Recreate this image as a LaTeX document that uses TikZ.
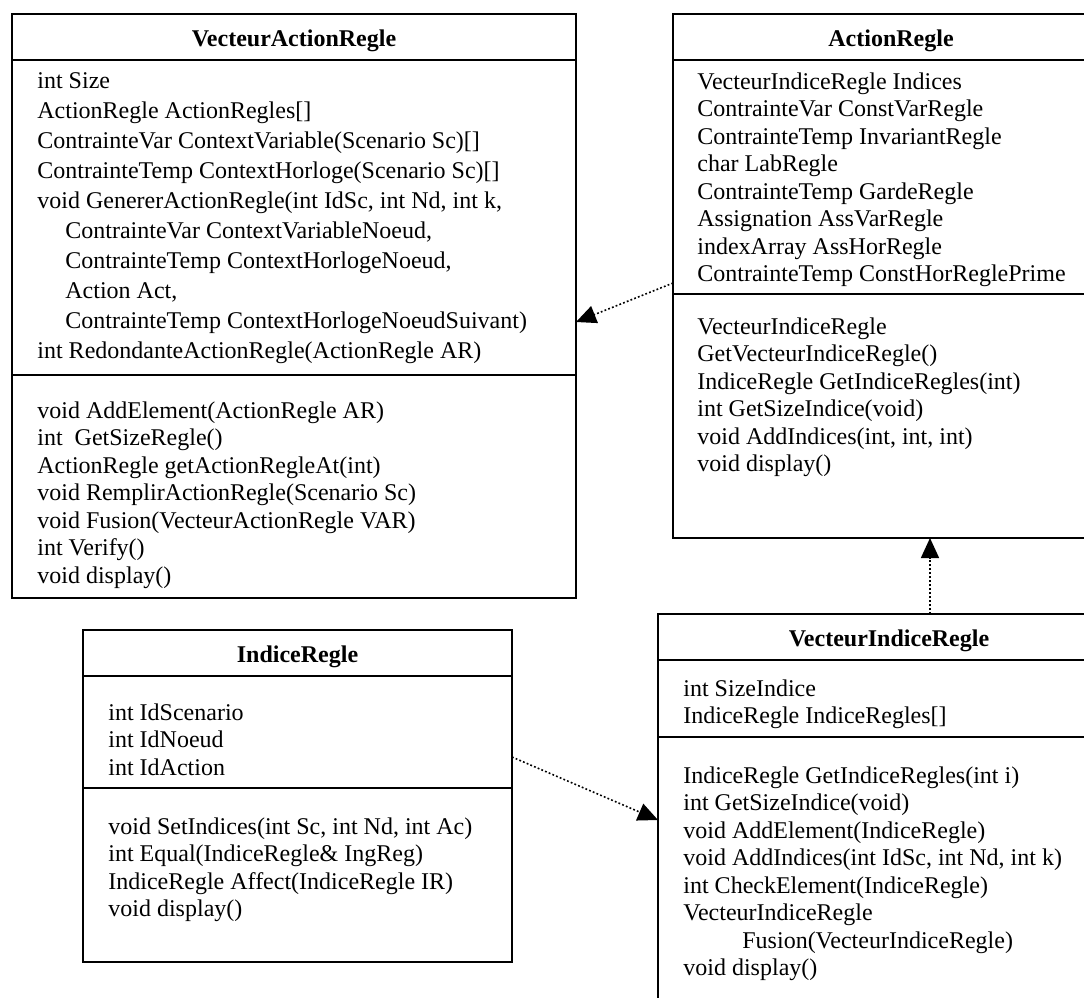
\documentclass[tikz,border=0pt]{standalone}
\usepackage{fontspec}
\setmainfont{Liberation Serif}
\usetikzlibrary{arrows.meta,positioning}

\begin{document}
\begin{tikzpicture}[
  x=0.5pt, y=0.5pt,
  font=\fontsize{12}{13.75}\selectfont,
  part/.style={draw, line width=1pt, inner sep=0pt, outer sep=0pt},
  head/.style={part, minimum height=23pt, text height=10pt, text depth=1pt,
               font=\fontsize{12}{13.75}\selectfont\bfseries},
  members/.style={anchor=north west, align=left, inner sep=0pt},
  dep/.style={line width=0.8pt, dash pattern=on 0.9pt off 1.1pt,
              -{Triangle[length=10pt, width=9pt]}}
]
\useasboundingbox (0,0) rectangle (1084,-998);

% VecteurActionRegle
\node[head, minimum width=282pt, anchor=north west] (var) at (12,-14) {VecteurActionRegle};
\node[part, minimum width=282pt, minimum height=157.5pt, below=0pt of var] (varA) {};
\node[part, minimum width=282pt, minimum height=111.5pt, below=0pt of varA] (varM) {};
\node[members, font=\fontsize{12}{15}\selectfont,
      below right=6pt and 12.5pt of varA.north west] (varAt) {int Size\\
  ActionRegle ActionRegles[]\\
  ContrainteVar ContextVariable(Scenario Sc)[]\\
  ContrainteTemp ContextHorloge(Scenario Sc)[]\\
  void GenererActionRegle(int IdSc, int Nd, int k,\\
  \hspace*{14pt}ContrainteVar ContextVariableNoeud,\\
  \hspace*{14pt}ContrainteTemp ContextHorlogeNoeud,\\
  \hspace*{14pt}Action Act,\\
  \hspace*{14pt}ContrainteTemp ContextHorlogeNoeudSuivant)\\
  int RedondanteActionRegle(ActionRegle AR)};
\node[members, below right=13pt and 12.5pt of varM.north west] (varMt) {void AddElement(ActionRegle AR)\\
  int~ GetSizeRegle()\\
  ActionRegle getActionRegleAt(int)\\
  void RemplirActionRegle(Scenario Sc)\\
  void Fusion(VecteurActionRegle VAR)\\
  int Verify()\\
  void display()};

% ActionRegle
\node[head, minimum width=218pt, anchor=north west] (ar) at (673,-14) {ActionRegle};
\node[part, minimum width=218pt, minimum height=117pt, below=0pt of ar] (arA) {};
\node[part, minimum width=218pt, minimum height=122pt, below=0pt of arA] (arM) {};
\node[members, below right=6pt and 12pt of arA.north west] (arAt) {VecteurIndiceRegle Indices\\
  ContrainteVar ConstVarRegle\\
  ContrainteTemp InvariantRegle\\
  char LabRegle\\
  ContrainteTemp GardeRegle\\
  Assignation AssVarRegle\\
  indexArray AssHorRegle\\
  ContrainteTemp ConstHorReglePrime};
\node[members, below right=11.5pt and 12pt of arM.north west] (arMt) {VecteurIndiceRegle\\
  GetVecteurIndiceRegle()\\
  IndiceRegle GetIndiceRegles(int)\\
  int GetSizeIndice(void)\\
  void AddIndices(int, int, int)\\
  void display()};

% IndiceRegle
\node[head, minimum width=214.5pt, anchor=north west] (ir) at (83,-630) {IndiceRegle};
\node[part, minimum width=214.5pt, minimum height=56pt, below=0pt of ir] (irA) {};
\node[part, minimum width=214.5pt, minimum height=87pt, below=0pt of irA] (irM) {};
\node[members, below right=13.5pt and 12.5pt of irA.north west] (irAt) {int IdScenario\\
  int IdNoeud\\
  int IdAction};
\node[members, below right=14.5pt and 12.5pt of irM.north west] (irMt) {void SetIndices(int Sc, int Nd, int Ac)\\
  int Equal(IndiceRegle\& IngReg)\\
  IndiceRegle Affect(IndiceRegle IR)\\
  void display()};

% VecteurIndiceRegle
\node[head, minimum width=231pt, anchor=north west] (vir) at (658,-614) {VecteurIndiceRegle};
\node[part, minimum width=231pt, minimum height=38.5pt, below=0pt of vir] (virA) {};
\node[part, minimum width=231pt, minimum height=150pt, below=0pt of virA] (virM) {};
\node[members, below right=9.5pt and 12.5pt of virA.north west] (virAt) {int SizeIndice\\
  IndiceRegle IndiceRegles[]};
\node[members, below right=14.5pt and 12.5pt of virM.north west] (virMt) {IndiceRegle GetIndiceRegles(int i)\\
  int GetSizeIndice(void)\\
  void AddElement(IndiceRegle)\\
  void AddIndices(int IdSc, int Nd, int k)\\
  int CheckElement(IndiceRegle)\\
  VecteurIndiceRegle\\
  \hspace*{29.5pt}Fusion(VecteurIndiceRegle)\\
  void display()};

% dependencies
\coordinate (virTop) at ([xshift=20.5pt]vir.north);
\draw[dep] ([yshift=-111.5pt]arA.north west) -- ([yshift=-131pt]varA.north east);
\draw[dep] ([yshift=-40.5pt]irA.north east) -- ([yshift=-41.5pt]virM.north west);
\draw[dep] (virTop) -- (virTop |- arM.south);
\end{tikzpicture}
\end{document}
